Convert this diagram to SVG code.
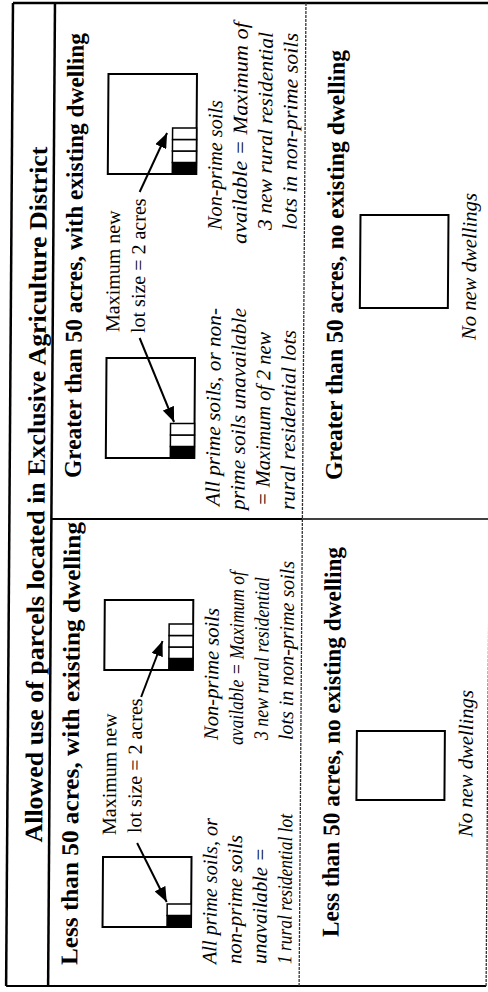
<svg xmlns="http://www.w3.org/2000/svg" width="488" height="992" viewBox="0 0 488 992">
<style>
.tl{font-family:"Liberation Serif","Times New Roman",serif;font-weight:bold;font-size:25px;fill:#000}
.hd{font-family:"Liberation Serif","Times New Roman",serif;font-weight:bold;font-size:24px;fill:#000}
.lb{font-family:"Liberation Serif","Times New Roman",serif;font-size:20px;fill:#000}
.it{font-family:"Liberation Serif","Times New Roman",serif;font-style:italic;font-size:20.5px;fill:#000}
.box{fill:#fff;stroke:#000;stroke-width:2}
.lot{fill:#fff;stroke:#000;stroke-width:1.5}
.dw{fill:#000;stroke:#000;stroke-width:1.5}
.arr{stroke:#000;stroke-width:2;fill:none;marker-end:url(#ah)}
.rule{stroke:#000;fill:none}
.dot{stroke:#333;fill:none;stroke-width:1.3;stroke-dasharray:3 1}
</style>
<defs>
<marker id="ah" markerUnits="userSpaceOnUse" markerWidth="16" markerHeight="12" refX="15" refY="6" orient="auto"><path d="M0,0 L15,6 L0,12 z" fill="#000"/></marker>
</defs>
<rect width="488" height="992" fill="#fff"/>
<g transform="skewX(-0.4)">
<g transform="translate(0,992) rotate(-90)">
<g id="table">
<line class="rule" x1="6" y1="13" x2="989" y2="13" stroke-width="2.5"/>
<line class="rule" x1="6" y1="13" x2="6" y2="493" stroke-width="2"/>
<line class="rule" x1="989" y1="13" x2="989" y2="493" stroke-width="2.5"/>
<line class="dot" x1="6" y1="493" x2="989" y2="493"/>
<line class="rule" x1="6" y1="55" x2="989" y2="55" stroke-width="2.5"/>
<line class="rule" x1="473" y1="55" x2="473" y2="306" stroke-width="2"/>
<line class="rule" x1="473" y1="306" x2="473" y2="493" stroke-width="1.5"/>
<line class="dot" x1="6" y1="306" x2="989" y2="306"/>
<text class="tl" x="497.5" y="48" text-anchor="middle" textLength="696" lengthAdjust="spacingAndGlyphs">Allowed use of parcels located in Exclusive Agriculture District</text>
</g>
<g id="less-with">
<text class="hd" x="27" y="84" textLength="443" lengthAdjust="spacingAndGlyphs">Less than 50 acres, with existing dwelling</text>
<rect class="box" x="65" y="109" width="70" height="88.5"/>
<rect class="dw" x="65" y="173.5" width="11.5" height="24"/>
<rect class="lot" x="76.5" y="173.5" width="11.5" height="24"/>
<text class="lb" x="157" y="121.5">Maximum new</text>
<text class="lb" x="159" y="147">lot size = 2 acres</text>
<rect class="box" x="322" y="109" width="70" height="88.5"/>
<rect class="dw" x="322" y="173.5" width="11.5" height="24"/>
<rect class="lot" x="333.5" y="173.5" width="11.5" height="24"/>
<rect class="lot" x="345" y="173.5" width="11.5" height="24"/>
<rect class="lot" x="356.5" y="173.5" width="11.5" height="24"/>
<text class="it" x="28" y="223" textLength="146" lengthAdjust="spacingAndGlyphs">All prime soils, or</text>
<text class="it" x="28" y="248" textLength="129" lengthAdjust="spacingAndGlyphs">non-prime soils</text>
<text class="it" x="28" y="273" textLength="116" lengthAdjust="spacingAndGlyphs">unavailable =</text>
<text class="it" x="28" y="298" textLength="150" lengthAdjust="spacingAndGlyphs">1 rural residential lot</text>
<text class="it" x="252" y="223" textLength="132" lengthAdjust="spacingAndGlyphs">Non-prime soils</text>
<text class="it" x="247" y="248" textLength="174" lengthAdjust="spacingAndGlyphs">available = Maximum of</text>
<text class="it" x="252" y="273" textLength="163" lengthAdjust="spacingAndGlyphs">3 new rural residential</text>
<text class="it" x="252" y="298" textLength="179" lengthAdjust="spacingAndGlyphs">lots in non-prime soils</text>
</g>
<g id="greater-with">
<text class="hd" x="514" y="84" textLength="445" lengthAdjust="spacingAndGlyphs">Greater than 50 acres, with existing dwelling</text>
<rect class="box" x="534" y="109" width="100" height="88.5"/>
<rect class="dw" x="534" y="173.5" width="11.5" height="24"/>
<rect class="lot" x="545.5" y="173.5" width="11.5" height="24"/>
<rect class="lot" x="557" y="173.5" width="11.5" height="24"/>
<text class="lb" x="660" y="121.5">Maximum new</text>
<text class="lb" x="659" y="147">lot size = 2 acres</text>
<rect class="box" x="818" y="109" width="100" height="88.5"/>
<rect class="dw" x="818" y="173.5" width="11.5" height="24"/>
<rect class="lot" x="829.5" y="173.5" width="11.5" height="24"/>
<rect class="lot" x="841" y="173.5" width="11.5" height="24"/>
<rect class="lot" x="852.5" y="173.5" width="11.5" height="24"/>
<text class="it" x="486" y="223" textLength="198" lengthAdjust="spacingAndGlyphs">All prime soils, or non-</text>
<text class="it" x="482" y="248" textLength="202" lengthAdjust="spacingAndGlyphs">prime soils unavailable</text>
<text class="it" x="486" y="273" textLength="174" lengthAdjust="spacingAndGlyphs">= Maximum of 2 new</text>
<text class="it" x="482" y="298" textLength="180" lengthAdjust="spacingAndGlyphs">rural residential lots</text>
<text class="it" x="762" y="223" textLength="130" lengthAdjust="spacingAndGlyphs">Non-prime soils</text>
<text class="it" x="748" y="248" textLength="222" lengthAdjust="spacingAndGlyphs">available = Maximum of</text>
<text class="it" x="762" y="273" textLength="198" lengthAdjust="spacingAndGlyphs">3 new rural residential</text>
<text class="it" x="762" y="298" textLength="197" lengthAdjust="spacingAndGlyphs">lots in non-prime soils</text>
</g>
<g id="less-no">
<text class="hd" x="55" y="345" textLength="390" lengthAdjust="spacingAndGlyphs">Less than 50 acres, no existing dwelling</text>
<rect class="box" x="192" y="362" width="69" height="88"/>
<text class="it" x="155" y="478" textLength="147" lengthAdjust="spacingAndGlyphs">No new dwellings</text>
</g>
<g id="greater-no">
<text class="hd" x="512" y="345" textLength="430" lengthAdjust="spacingAndGlyphs">Greater than 50 acres, no existing dwelling</text>
<rect class="box" x="684" y="362" width="93" height="88"/>
<text class="it" x="652" y="478" textLength="147" lengthAdjust="spacingAndGlyphs">No new dwellings</text>
</g>
<g id="connectors">
<line class="arr" x1="149" y1="143" x2="90" y2="173"/>
<line class="arr" x1="295" y1="146" x2="351" y2="167"/>
<line class="arr" x1="654" y1="142" x2="570" y2="177"/>
<line class="arr" x1="800" y1="141" x2="859" y2="168"/>
</g>
</g>
</g>
</svg>
